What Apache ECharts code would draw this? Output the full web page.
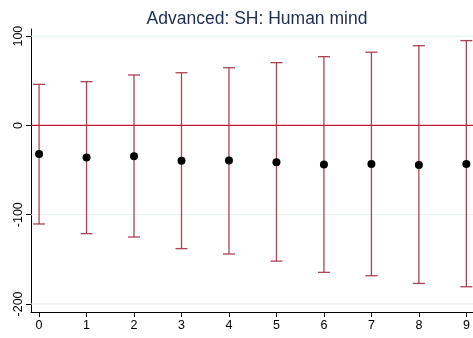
<!DOCTYPE html>
<html>
<head>
<meta charset="utf-8">
<script src="https://cdn.jsdelivr.net/npm/echarts@6/dist/echarts.min.js"></script>
<style>html,body{margin:0;padding:0;background:#fff}#c{width:473px;height:338px}</style>
</head>
<body>
<div id="c"></div>
<script>
var categories = [0, 1, 2, 3, 4, 5, 6, 7, 8, 9];
var estimates = [-32, -36, -34.5, -39.7, -39.3, -41.2, -43.8, -43.1, -44.2, -43.1];
var upper = [46, 49, 56.5, 59, 64.6, 70.3, 77, 82, 89.3, 95];
var lower = [-110.4, -121.2, -125, -138, -144, -152, -164.6, -168.4, -177, -180.7];
var yTicks = [-200, -100, 0, 100];
var xTicks = [0, 1, 2, 3, 4, 5, 6, 7, 8, 9];
var gridValues = [-200, -100, 100];
var referenceValue = 0;

var X_MIN = -0.17, X_MAX = 9.14;
var chart = echarts.init(document.getElementById('c'), null, {renderer: 'canvas'});
var FONT = 'Liberation Sans, Arial, Helvetica, sans-serif';
var barColor = '#a3303f';

function hline(v, color, width, z) {
  return {
    type: 'line', silent: true, z: z, symbol: 'none',
    lineStyle: {color: color, width: width, opacity: 1},
    itemStyle: {color: color},
    data: [[X_MIN, v], [X_MAX, v]]
  };
}

var series = gridValues.map(function (v) { return hline(v, '#e4eef1', 1, 1); });
series.push(hline(referenceValue, '#c2173f', 1.2, 3));
series.push({
  type: 'custom', z: 4,
  data: categories.map(function (c, i) { return [c, lower[i], upper[i]]; }),
  renderItem: function (params, api) {
    var x = api.value(0);
    var lo = api.coord([x, api.value(1)]);
    var hi = api.coord([x, api.value(2)]);
    var hw = 6;
    var st = {stroke: barColor, lineWidth: 1.3, opacity: 0.9};
    return {
      type: 'group',
      children: [
        {type: 'line', shape: {x1: lo[0], y1: lo[1], x2: hi[0], y2: hi[1]}, style: st},
        {type: 'line', shape: {x1: lo[0] - hw, y1: lo[1], x2: lo[0] + hw, y2: lo[1]}, style: st},
        {type: 'line', shape: {x1: hi[0] - hw, y1: hi[1], x2: hi[0] + hw, y2: hi[1]}, style: st}
      ]
    };
  }
});
series.push({
  type: 'scatter', z: 5,
  symbol: 'circle', symbolSize: 8,
  itemStyle: {color: '#000', opacity: 1},
  data: categories.map(function (c, i) { return [c, estimates[i]]; })
});

var option = {
  animation: false,
  title: {
    text: 'Advanced: SH: Human mind',
    left: 252, top: 5, textAlign: 'center',
    textStyle: {fontFamily: FONT, fontSize: 17.5, fontWeight: 'normal', color: '#1f2d52'}
  },
  grid: {left: 31, right: 0, top: 29, bottom: 26},
  xAxis: {
    type: 'value', min: X_MIN, max: X_MAX,
    axisLine: {show: true, onZero: false, lineStyle: {color: '#000', width: 1}},
    axisTick: {show: true, length: 5, customValues: xTicks, lineStyle: {color: '#000'}},
    axisLabel: {customValues: xTicks, margin: 7, fontFamily: FONT, fontSize: 12.5, color: '#000'},
    splitLine: {show: false}
  },
  yAxis: {
    type: 'value', min: -209, max: 108,
    axisLine: {show: true, onZero: false, lineStyle: {color: '#000', width: 1}},
    axisTick: {show: true, length: 5, customValues: yTicks, lineStyle: {color: '#000'}},
    axisLabel: {customValues: yTicks, rotate: 90, margin: 6, fontFamily: FONT, fontSize: 12.5, color: '#000'},
    splitLine: {show: false}
  },
  series: series
};
chart.setOption(option);
</script>
</body>
</html>
